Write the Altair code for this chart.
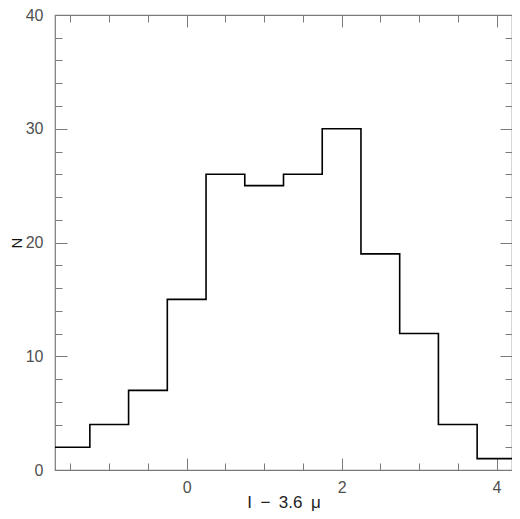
import altair as alt
import pandas as pd

bin_edges = [-1.75, -1.25, -0.75, -0.25, 0.25, 0.75, 1.25, 1.75, 2.25, 2.75, 3.25, 3.75, 4.25]
counts = [2, 4, 7, 15, 26, 25, 26, 30, 19, 12, 4, 1]
x_domain = [-1.7, 4.2]
y_domain = [0, 40]
x_major = [0, 2, 4]
x_minor = [-1.5, -1, -0.5, 0.5, 1, 1.5, 2.5, 3, 3.5]
y_major = [0, 10, 20, 30, 40]
y_minor = [2, 4, 6, 8, 12, 14, 16, 18, 22, 24, 26, 28, 32, 34, 36, 38]

df = pd.DataFrame({"x": bin_edges, "n": counts + [counts[-1]]})

xs = alt.Scale(domain=x_domain, nice=False, zero=False)
ys = alt.Scale(domain=y_domain, nice=False, zero=False)

AX_COL = "#7a7a7a"
TXT_COL = "#505050"
FONT = "Liberation Sans"


def layer(xaxis, yaxis, visible=False):
    m = alt.Chart(df).mark_line(
        interpolate="step-after", clip=True, color="black",
        strokeWidth=1.6, opacity=1 if visible else 0,
    )
    return m.encode(
        x=alt.X("x:Q", scale=xs, axis=xaxis),
        y=alt.Y("n:Q", scale=ys, axis=yaxis),
    )


def tick_axis(orient, values, size):
    return alt.Axis(
        orient=orient, values=values, tickSize=size, offset=-size,
        labels=False, domain=False, grid=False, title=None,
        tickColor=AX_COL, tickWidth=1,
    )


label_x = alt.Axis(
    orient="bottom", values=x_major, ticks=False, domain=False, grid=False,
    labelFont=FONT, labelFontSize=16, labelColor=TXT_COL, labelPadding=9,
    labelFlush=False,
    title="I\u2002\u2212\u20023.6\u2002\u03bc", titleFont=FONT, titleFontSize=17,
    titleFontWeight="normal", titleColor="#222222",
    titleY=37, titleBaseline="alphabetic",
)
label_y = alt.Axis(
    orient="left", values=y_major, ticks=False, domain=False, grid=False,
    labelFont=FONT, labelFontSize=16, labelColor=TXT_COL, labelPadding=12,
    labelFlush=False,
    title="N", titleFont=FONT, titleFontSize=15, titleFontWeight="normal",
    titleColor="#111111", titleX=-46, titleBaseline="top",
)

chart = alt.layer(
    layer(label_x, label_y, visible=True),
    layer(tick_axis("bottom", x_major, 12), tick_axis("left", y_major, 12)),
    layer(tick_axis("bottom", x_minor, 7), tick_axis("left", y_minor, 7)),
    layer(tick_axis("top", x_major, 12), tick_axis("right", y_major, 12)),
    layer(tick_axis("top", x_minor, 7), tick_axis("right", y_minor, 7)),
).resolve_axis(
    x="independent", y="independent"
).properties(
    width=457, height=455,
    autosize=alt.AutoSizeParams(type="none"),
    padding={"left": 47, "top": 7, "right": 0, "bottom": 41},
).configure_view(
    stroke=AX_COL, strokeWidth=1.2
)

chart.save("out.html", embed_options={"renderer": "svg", "actions": False})
